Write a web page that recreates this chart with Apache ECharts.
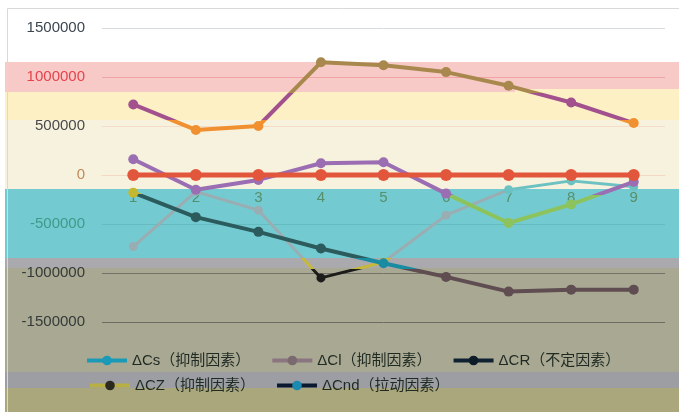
<!DOCTYPE html>
<html>
<head>
<meta charset="utf-8">
<script src="https://cdn.jsdelivr.net/npm/echarts@6/dist/echarts.min.js"></script>
<style>html,body{margin:0;padding:0;background:#fff}#c{width:679px;height:412px}</style>
</head>
<body>
<div id="c"></div>
<script>
// ---- data ----
const categories = ['1','2','3','4','5','6','7','8','9'];
const yTicks = [-1500000,-1000000,-500000,0,500000,1000000,1500000];
const seriesNames = ['ΔCs（抑制因素）','ΔCl（抑制因素）','ΔCR（不定因素）','ΔCZ（抑制因素）','ΔCnd（拉动因素）'];
const dCs  = [-730000,-170000,-360000,-1050000,-890000,-410000,-150000,-60000,-120000];
const dCl  = [-180000,-430000,-580000,-750000,-900000,-1040000,-1190000,-1170000,-1170000];
const dCR  = [160000,-150000,-50000,120000,130000,-190000,-490000,-300000,-70000];
const dCZ  = [0,0,0,0,0,0,0,0,0];
const dCnd = [720000,460000,500000,1150000,1120000,1050000,910000,740000,530000];

const FONT = "'Liberation Sans','Noto Sans CJK SC',sans-serif";
const chart = echarts.init(document.getElementById('c'));
const LO = -1500000, HI = 1500000;
const GRID_TOP = 28, GRID_BOTTOM = 90, H = 412;
// place category axis at the zero value
const zeroOffset = -((H - GRID_TOP - GRID_BOTTOM) * (0 - LO) / (HI - LO));

function vm(idx, pieces){ return {type:'piecewise', show:false, seriesIndex:idx, dimension:1, pieces:pieces, outOfRange:{color:pieces[0].color}}; }
function line(name, data, size, width, color){
  const s = {name:name, type:'line', data:data, symbol:'circle', symbolSize:size,
    lineStyle:{width:width}, emphasis:{disabled:true}, animation:false};
  if (color) { s.itemStyle = {color:color}; s.lineStyle.color = color; }
  return s;
}

const bands = [
  {x:5, y:62, w:674, h:30, c:'#f7c9c7'},
  {x:5, y:92, w:674, h:28, c:'#fdf0c4'},
  {x:515, y:89, w:164, h:3, c:'#fdf0c4'},
  {x:5, y:120, w:674, h:69, c:'#f6f2dd'},
  {x:5, y:189, w:674, h:69, c:'#73cbd1'},
  {x:5, y:258, w:674, h:10, c:'#a9a9ae'},
  {x:5, y:268, w:674, h:104, c:'#a9a892'},
  {x:5, y:372, w:674, h:16, c:'#9c9ea3'},
  {x:5, y:388, w:674, h:24, c:'#aba77d'}
];
const graphics = bands.map(b => ({type:'rect', z:-10, silent:true, shape:{x:b.x, y:b.y, width:b.w, height:b.h}, style:{fill:b.c}}));
graphics.push({type:'rect', z:-9, silent:true, shape:{x:7.5, y:8.5, width:680, height:420}, style:{fill:'none', stroke:'#d9d9d9', lineWidth:1}});

const labelColors = {'-1500000':'#333a38','-1000000':'#333a38','-500000':'#3f9a8a','0':'#c08a5a','500000':'#4a4a48','1000000':'#e6434c','1500000':'#3c4650'};

chart.setOption({
  animation:false,
  graphic:{elements:graphics},
  grid:{left:102, right:14, top:GRID_TOP, bottom:GRID_BOTTOM},
  xAxis:{type:'category', data:categories, position:'bottom', offset:zeroOffset,
    axisLine:{show:true, onZero:false, lineStyle:{color:'#f3d9c4', width:1}},
    axisTick:{show:false},
    axisLabel:{color:'#568f6c', fontSize:15, margin:15, fontFamily:FONT}},
  yAxis:{type:'value', min:yTicks[0], max:yTicks[yTicks.length-1], interval:500000,
    axisLine:{show:false}, axisTick:{show:false},
    axisLabel:{fontSize:15, margin:17, fontFamily:FONT, formatter:function(v){return String(v);},
      color:function(v){return labelColors[String(v)]||'#404040';}},
    splitLine:{lineStyle:{width:1, color:['#6c6c62','#727268','#64bcc0','#f3d9c4','#f5dcc8','#f0a4a4','#d6dce0']}}},
  legend:[
    {data:[
      {name:seriesNames[0], itemStyle:{color:'#1a9ab6'}, lineStyle:{color:'#1a9ab6', width:4}},
      {name:seriesNames[1], itemStyle:{color:'#7a6a70'}, lineStyle:{color:'#8a7580', width:4}},
      {name:seriesNames[2], itemStyle:{color:'#0e1c28'}, lineStyle:{color:'#102232', width:4}}],
     left:80, top:348, itemWidth:40, itemHeight:12, itemGap:20,
     textStyle:{fontSize:15, color:'#1e2a22', fontFamily:FONT}},
    {data:[
      {name:seriesNames[3], itemStyle:{color:'#2a2a20'}, lineStyle:{color:'#b8b042', width:4}},
      {name:seriesNames[4], itemStyle:{color:'#1a8ab0'}, lineStyle:{color:'#0a1830', width:4}}],
     left:83, top:373, itemWidth:40, itemHeight:12, itemGap:20,
     textStyle:{fontSize:15, color:'#1e2a22', fontFamily:FONT}}
  ],
  visualMap:[
    vm(0,[{gt:-160000,lte:HI,color:'#6cc2c2'},{gt:-850000,lte:-160000,color:'#9aadb3'},{gt:-960000,lte:-850000,color:'#c6b83a'},{gte:LO,lte:-960000,color:'#1c1c1a'}]),
    vm(1,[{gt:-190000,lte:HI,color:'#c4b830'},{gt:-850000,lte:-190000,color:'#2b5b5d'},{gt:-960000,lte:-850000,color:'#1a8ca2'},{gte:LO,lte:-960000,color:'#5f4d51'}]),
    vm(2,[{gt:-200000,lte:HI,color:'#9b6db2'},{gte:LO,lte:-200000,color:'#8dc35d'}]),
    vm(4,[{gt:840000,lte:HI,color:'#a8884c'},{gt:560000,lte:840000,color:'#a2508e'},{gte:LO,lte:560000,color:'#f09030'}])
  ],
  series:[
    line(seriesNames[0], dCs, 9, 3),
    line(seriesNames[1], dCl, 10, 4),
    line(seriesNames[2], dCR, 10, 4),
    line(seriesNames[3], dCZ, 12, 5, '#e2563c'),
    line(seriesNames[4], dCnd, 10, 4)
  ]
});
</script>
</body>
</html>
